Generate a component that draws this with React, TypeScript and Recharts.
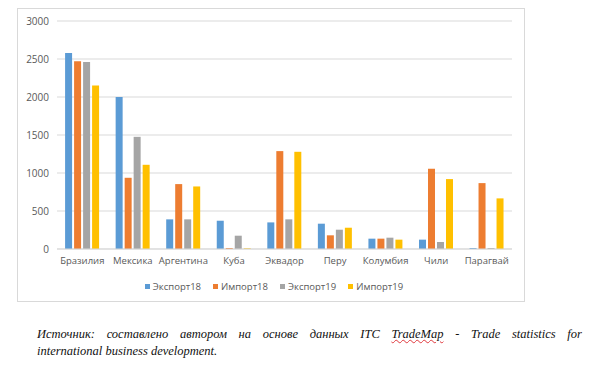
import { BarChart, Bar, XAxis, YAxis, CartesianGrid } from "recharts";

const countries = [
  "Бразилия",
  "Мексика",
  "Аргентина",
  "Куба",
  "Эквадор",
  "Перу",
  "Колумбия",
  "Чили",
  "Парагвай",
];

const export18 = [2580, 2000, 390, 372, 350, 333, 136, 123, 13];
const import18 = [2470, 937, 854, 13, 1288, 180, 136, 1056, 867];
const export19 = [2460, 1476, 390, 175, 390, 254, 149, 92, 13];
const import19 = [2150, 1108, 823, 9, 1279, 280, 123, 920, 666];

const yTicks = [0, 500, 1000, 1500, 2000, 2500, 3000];

const series = [
  { key: "export18", name: "Экспорт18", color: "#5B9BD5" },
  { key: "import18", name: "Импорт18", color: "#ED7D31" },
  { key: "export19", name: "Экспорт19", color: "#A5A5A5" },
  { key: "import19", name: "Импорт19", color: "#FFC000" },
];

const data = countries.map((country, i) => ({
  country,
  export18: export18[i],
  import18: import18[i],
  export19: export19[i],
  import19: import19[i],
}));

const FONT = "'Open Sans', 'Noto Sans', sans-serif";
const Y_TICK = { fill: "#595959", fontSize: 10, fontFamily: FONT };
const X_TICK = { fill: "#595959", fontSize: 9.5, fontFamily: FONT };

const captionStyle = {
  fontFamily: "'Liberation Serif', 'DejaVu Serif', serif",
  fontStyle: "italic" as const,
  fontSize: 12.5,
  lineHeight: "17px",
  color: "#111",
  whiteSpace: "nowrap" as const,
};

export default function App() {
  return (
    <div
      style={{
        position: "absolute",
        left: 0,
        top: 0,
        width: 600,
        height: 369,
        background: "#fff",
        overflow: "hidden",
      }}
    >
      <div
        style={{
          position: "absolute",
          left: 17,
          top: 8,
          width: 508,
          height: 294,
          border: "1px solid #D9D9D9",
          boxSizing: "border-box",
        }}
      >
        <BarChart
          width={506}
          height={292}
          data={data}
          margin={{ top: 12, right: 12, bottom: 22, left: 0 }}
          barCategoryGap="16%"
          barGap={2}
        >
          <CartesianGrid vertical={false} stroke="#D9D9D9" />
          <XAxis
            dataKey="country"
            tick={X_TICK}
            tickLine={false}
            axisLine={{ stroke: "#D9D9D9" }}
            interval={0}
          />
          <YAxis
            width={39}
            domain={[0, 3000]}
            ticks={yTicks}
            tick={Y_TICK}
            tickLine={false}
            axisLine={false}
            tickMargin={2}
          />
          {series.map((s) => (
            <Bar
              key={s.key}
              dataKey={s.key}
              name={s.name}
              fill={s.color}
              isAnimationActive={false}
            />
          ))}
        </BarChart>
        <div
          style={{
            position: "absolute",
            left: 0,
            right: 0,
            top: 271,
            display: "flex",
            justifyContent: "center",
            gap: 12,
            paddingLeft: 6,
            fontFamily: FONT,
            fontSize: 9.5,
            color: "#595959",
          }}
        >
          {series.map((s) => (
            <span key={s.key} style={{ display: "flex", alignItems: "center" }}>
              <span
                style={{
                  display: "inline-block",
                  width: 5,
                  height: 5,
                  background: s.color,
                  marginRight: 3,
                }}
              />
              {s.name}
            </span>
          ))}
        </div>
      </div>
      <div
        style={{
          ...captionStyle,
          position: "absolute",
          left: 37,
          top: 326,
          width: 545,
          display: "flex",
          justifyContent: "space-between",
        }}
      >
        {"Источник: составлено автором на основе данных ITC"
          .split(" ")
          .map((w, i) => (
            <span key={i}>{w}</span>
          ))}
        <span
          style={{
            textDecoration: "underline wavy #E0393E",
            textDecorationThickness: 1,
          }}
        >
          TradeMap
        </span>
        {"- Trade statistics for".split(" ").map((w, i) => (
          <span key={"b" + i}>{w}</span>
        ))}
      </div>
      <div style={{ ...captionStyle, position: "absolute", left: 37, top: 343 }}>
        international business development.
      </div>
    </div>
  );
}
